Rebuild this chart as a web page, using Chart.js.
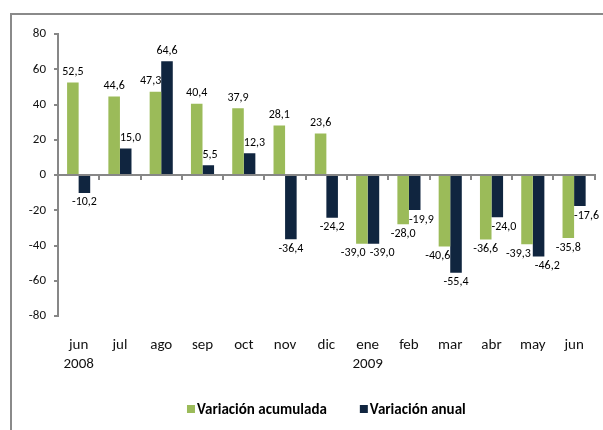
<!DOCTYPE html>
<html>
<head>
<meta charset="utf-8">
<script src="https://cdn.jsdelivr.net/npm/chart.js@4.4.0/dist/chart.umd.min.js"></script>
<style>
  html, body { margin: 0; padding: 0; background: #fff; }
  #wrap { width: 603px; height: 430px; }
</style>
</head>
<body>
<div id="wrap"><canvas id="chart" width="603" height="430"></canvas></div>
<script>
var months = [['jun', '2008'], 'jul', 'ago', 'sep', 'oct', 'nov', 'dic', ['ene', '2009'], 'feb', 'mar', 'abr', 'may', 'jun'];
var acumulada = [52.5, 44.6, 47.3, 40.4, 37.9, 28.1, 23.6, -39.0, -28.0, -40.6, -36.6, -39.3, -35.8];
var anual = [-10.2, 15.0, 64.6, 5.5, 12.3, -36.4, -24.2, -39.0, -19.9, -55.4, -24.0, -46.2, -17.6];
var seriesNames = ['Variación acumulada', 'Variación anual'];
var yTicks = [-80, -60, -40, -20, 0, 20, 40, 60, 80];

var FONT = 'Carlito, Lato, sans-serif';
var GREEN = '#9bbb59', NAVY = '#10253f', AXIS = '#878787';

function fmt(v) { return v.toFixed(1).replace('.', ','); }

// outer frame (only top and left edges are visible in the picture)
var framePlugin = {
  id: 'frame',
  beforeDraw: function (chart) {
    var c = chart.ctx;
    c.save();
    c.strokeStyle = '#8a8a8a';
    c.lineWidth = 2;
    c.beginPath();
    c.moveTo(11, 440);
    c.lineTo(11, 14);
    c.lineTo(620, 14);
    c.stroke();
    c.restore();
  }
};

// small category ticks on the zero line
var zeroTicks = {
  id: 'zeroTicks',
  afterDatasetsDraw: function (chart) {
    var xs = chart.scales.x, ys = chart.scales.y, c = chart.ctx;
    var y0 = ys.getPixelForValue(0);
    var step = xs.width / months.length;
    c.save();
    c.strokeStyle = AXIS;
    c.lineWidth = 2;
    c.beginPath();
    for (var k = 1; k <= months.length; k++) {
      var x = Math.round(xs.left + k * step);
      c.moveTo(x, y0 - 1);
      c.lineTo(x, y0 + 5);
    }
    c.stroke();
    c.restore();
  }
};

// value labels, nudged sideways when they would run into the neighbour bar
var valueLabels = {
  id: 'valueLabels',
  afterDatasetsDraw: function (chart) {
    var c = chart.ctx;
    c.save();
    c.font = '12px ' + FONT;
    c.fillStyle = '#000';
    c.textAlign = 'center';
    c.textBaseline = 'middle';
    var m0 = chart.getDatasetMeta(0), m1 = chart.getDatasetMeta(1);
    var H = 13;
    for (var i = 0; i < months.length; i++) {
      var bars = [m0.data[i], m1.data[i]];
      var vals = [acumulada[i], anual[i]];
      var boxes = bars.map(function (b, d) {
        var p = b.getProps(['x', 'y', 'base', 'width'], true);
        var w = c.measureText(fmt(vals[d])).width;
        var cy = vals[d] >= 0 ? p.y - 4 - H / 2 : p.y + 3 + H / 2;
        return { x: p.x, w: w, top: cy - H / 2, bot: cy + H / 2, cy: cy, bar: p };
      });
      var boundary = boxes[0].bar.x + boxes[0].bar.width / 2;
      boxes.forEach(function (bx, d) {
        var o = boxes[1 - d];
        var bt = Math.min(o.bar.y, o.bar.base), bb = Math.max(o.bar.y, o.bar.base);
        var hitBar = bx.top < bb && bx.bot > bt;
        var hitLab = bx.top < o.bot && bx.bot > o.top;
        var x = bx.x;
        var m = hitLab ? 2 : 0;
        if (hitBar || hitLab) {
          if (d === 0 && x + bx.w / 2 > boundary - m) x = boundary - m - bx.w / 2;
          if (d === 1 && x - bx.w / 2 < boundary + m) x = boundary + m + bx.w / 2;
        }
        c.fillText(fmt(vals[d]), x, bx.cy);
      });
    }
    c.restore();
  }
};

// legend row under the axis labels
var legendRow = {
  id: 'legendRow',
  afterDraw: function (chart) {
    var c = chart.ctx, ca = chart.chartArea;
    var colors = [GREEN, NAVY];
    c.save();
    c.font = 'bold 15px ' + FONT;
    c.textBaseline = 'middle';
    c.textAlign = 'left';
    var box = 8, gap = 2, space = 33, y = 409;
    var widths = seriesNames.map(function (s) { return c.measureText(s).width; });
    var total = widths[0] + widths[1] + 2 * (box + gap) + space;
    var x = (ca.left + ca.right) / 2 - total / 2;
    seriesNames.forEach(function (s, d) {
      c.fillStyle = colors[d];
      c.fillRect(x, y - box / 2, box, box);
      c.fillStyle = '#000';
      c.fillText(s, x + box + gap, y + 1);
      x += box + gap + widths[d] + space;
    });
    c.restore();
  }
};

new Chart(document.getElementById('chart'), {
  type: 'bar',
  data: {
    labels: months,
    datasets: [
      { label: seriesNames[0], data: acumulada, backgroundColor: GREEN, categoryPercentage: 0.56, barPercentage: 1.0 },
      { label: seriesNames[1], data: anual, backgroundColor: NAVY, categoryPercentage: 0.56, barPercentage: 1.0 }
    ]
  },
  options: {
    responsive: false,
    animation: false,
    layout: { padding: { left: 0, top: 34, right: 6, bottom: 0 } },
    plugins: { legend: { display: false }, tooltip: { enabled: false } },
    scales: {
      x: {
        grid: { display: false, drawTicks: false },
        border: { display: false },
        ticks: { color: '#111', padding: 19, maxRotation: 0, autoSkip: false, font: { family: FONT, size: 15, lineHeight: 1.3 } },
        afterFit: function (s) { s.height = 114; }
      },
      y: {
        min: yTicks[0],
        max: yTicks[yTicks.length - 1],
        ticks: { stepSize: yTicks[1] - yTicks[0], color: '#111', padding: 8, font: { family: FONT, size: 13 } },
        grid: {
          color: function (ctx) { return ctx.tick && ctx.tick.value === 0 ? AXIS : 'rgba(0,0,0,0)'; },
          lineWidth: 2,
          tickColor: AXIS,
          tickLength: 4
        },
        border: { display: true, color: AXIS, width: 2 },
        afterFit: function (s) { s.width = 58; }
      }
    }
  },
  plugins: [framePlugin, zeroTicks, valueLabels, legendRow]
});
</script>
</body>
</html>
